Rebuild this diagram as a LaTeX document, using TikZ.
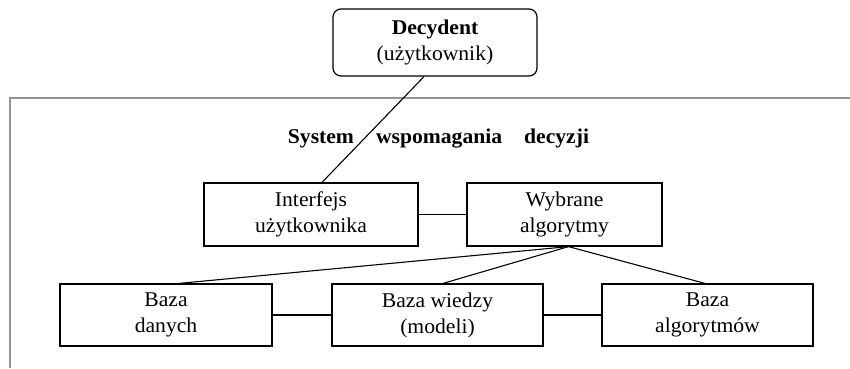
\documentclass[tikz,border=0pt]{standalone}
\usepackage{fontspec}
\setmainfont[FakeStretch=1.03]{Liberation Serif}
\begin{document}
\begin{tikzpicture}[x=1pt,y=-1pt,
  box/.style={draw=black,line width=1.2pt,align=center,inner sep=0pt,
    font=\fontsize{21}{26}\selectfont},
  link/.style={draw=black,line width=1.1pt},
  frame/.style={draw=black!42,line width=1.4pt}]
\useasboundingbox (0,0) rectangle (850,368);
\draw[frame] (850,98) -- (10,98) -- (10,368);
\node[box,rounded corners=8pt,minimum width=204pt,minimum height=67pt,
  font=\fontsize{21}{26}\selectfont] (dec) at (435,42.5)
  {\textbf{Decydent}\\(użytkownik)};
\node[anchor=base,font=\fontsize{21}{26}\selectfont\bfseries,inner sep=0pt] (sys) at (438.5,143)
  {System\hspace{22pt}wspomagania\hspace{22pt}decyzji};
\node[box,minimum width=214pt,minimum height=63pt] (intf) at (311,214.5) {Interfejs\\użytkownika};
\node[box,minimum width=195pt,minimum height=63pt] (wyb) at (564.5,214.5) {Wybrane\\algorytmy};
\node[box,minimum width=212pt,minimum height=62pt] (dan) at (166,315) {Baza\\danych};
\node[box,minimum width=211pt,minimum height=62pt] (wie) at (437.5,315) {Baza wiedzy\\(modeli)};
\node[box,minimum width=211pt,minimum height=62pt] (alg) at (707.5,315) {Baza\\algorytmów};
\draw[link] ([xshift=-11pt]dec.south) -- ([xshift=11pt]intf.north);
\draw[link] (intf.east) -- (wyb.west);
\draw[link] (dan.east) -- (wie.west);
\draw[link] (wie.east) -- (alg.west);
\draw[link] ([xshift=4pt]wyb.south) -- ([xshift=13pt]dan.north);
\draw[link] ([xshift=4pt]wyb.south) -- ([xshift=5.5pt]wie.north);
\draw[link] ([xshift=4pt]wyb.south) -- ([xshift=-2.5pt]alg.north);
\end{tikzpicture}
\end{document}
